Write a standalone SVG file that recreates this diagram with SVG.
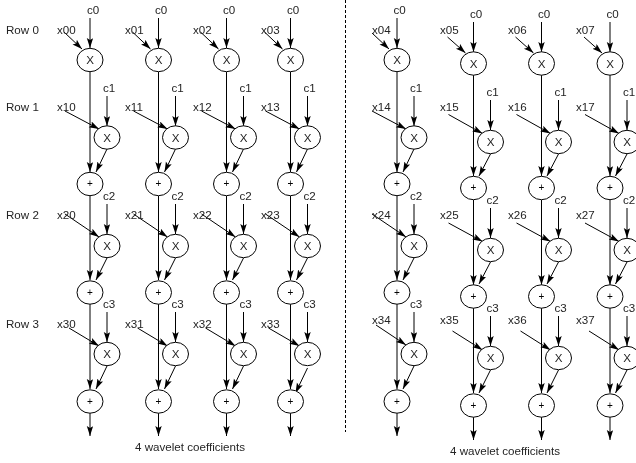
<svg xmlns="http://www.w3.org/2000/svg" width="636" height="463" viewBox="0 0 636 463">
<style>
text{font-family:"Liberation Sans",Arial,sans-serif;font-size:11.6px;fill:#222}
.m{text-anchor:middle}
.p{font-size:10px;fill:#000}
ellipse{fill:#fff;stroke:#000;stroke-width:1}
#connectors line{stroke:#000;stroke-width:1;marker-end:url(#h)}
#divider{stroke:#000;stroke-width:1;stroke-dasharray:3 2}
#nodes,#labels{opacity:.99}
</style>
<defs>
<marker id="h" markerUnits="userSpaceOnUse" markerWidth="11" markerHeight="8" refX="10" refY="3.2" orient="auto"><path d="M0,0 L10,3.2 L0,6.4 L2,3.2 Z" fill="#000"/></marker>
<g id="xn"><ellipse rx="13" ry="11.7"/><text class="m" y="4">X</text></g>
<g id="pn"><ellipse rx="13" ry="11.7"/><text class="m p" y="3.3">+</text></g>
</defs>
<line id="divider" x1="345.5" y1="0" x2="345.5" y2="432"/>
<g id="connectors">
<g transform="translate(90,0)"><line x1="0" y1="18" x2="0" y2="48"/><line x1="-26" y1="32" x2="-8" y2="49"/><line x1="0" y1="71.7" x2="0" y2="172"/><line x1="17" y1="96" x2="17" y2="126"/><line x1="-25" y1="111" x2="9" y2="129"/><line x1="17" y1="149" x2="6" y2="172"/><line x1="0" y1="196" x2="0" y2="280"/><line x1="17" y1="204" x2="17" y2="234"/><line x1="-25" y1="214" x2="9" y2="237"/><line x1="17" y1="258" x2="6" y2="280"/><line x1="0" y1="304" x2="0" y2="389"/><line x1="17" y1="312" x2="17" y2="342"/><line x1="-21" y1="328" x2="9" y2="346"/><line x1="17" y1="366" x2="6" y2="389"/><line x1="0" y1="413" x2="0" y2="436"/></g>
<g transform="translate(158.5,0)"><line x1="0" y1="18" x2="0" y2="48"/><line x1="-26" y1="32" x2="-8" y2="49"/><line x1="0" y1="71.7" x2="0" y2="172"/><line x1="17" y1="96" x2="17" y2="126"/><line x1="-25" y1="111" x2="9" y2="129"/><line x1="17" y1="149" x2="6" y2="172"/><line x1="0" y1="196" x2="0" y2="280"/><line x1="17" y1="204" x2="17" y2="234"/><line x1="-25" y1="214" x2="9" y2="237"/><line x1="17" y1="258" x2="6" y2="280"/><line x1="0" y1="304" x2="0" y2="389"/><line x1="17" y1="312" x2="17" y2="342"/><line x1="-21" y1="328" x2="9" y2="346"/><line x1="17" y1="366" x2="6" y2="389"/><line x1="0" y1="413" x2="0" y2="436"/></g>
<g transform="translate(226.5,0)"><line x1="0" y1="18" x2="0" y2="48"/><line x1="-26" y1="32" x2="-8" y2="49"/><line x1="0" y1="71.7" x2="0" y2="172"/><line x1="17" y1="96" x2="17" y2="126"/><line x1="-25" y1="111" x2="9" y2="129"/><line x1="17" y1="149" x2="6" y2="172"/><line x1="0" y1="196" x2="0" y2="280"/><line x1="17" y1="204" x2="17" y2="234"/><line x1="-25" y1="214" x2="9" y2="237"/><line x1="17" y1="258" x2="6" y2="280"/><line x1="0" y1="304" x2="0" y2="389"/><line x1="17" y1="312" x2="17" y2="342"/><line x1="-21" y1="328" x2="9" y2="346"/><line x1="17" y1="366" x2="6" y2="389"/><line x1="0" y1="413" x2="0" y2="436"/></g>
<g transform="translate(290.5,0)"><line x1="0" y1="18" x2="0" y2="48"/><line x1="-26" y1="32" x2="-8" y2="49"/><line x1="0" y1="71.7" x2="0" y2="172"/><line x1="17" y1="96" x2="17" y2="126"/><line x1="-25" y1="111" x2="9" y2="129"/><line x1="17" y1="149" x2="6" y2="172"/><line x1="0" y1="196" x2="0" y2="280"/><line x1="17" y1="204" x2="17" y2="234"/><line x1="-25" y1="214" x2="9" y2="237"/><line x1="17" y1="258" x2="6" y2="280"/><line x1="0" y1="304" x2="0" y2="389"/><line x1="17" y1="312" x2="17" y2="342"/><line x1="-22" y1="328" x2="9" y2="346"/><line x1="17" y1="368" x2="5" y2="393"/><line x1="0" y1="413" x2="0" y2="436"/></g>
<g transform="translate(397,0)"><line x1="0" y1="18" x2="0" y2="48"/><line x1="-25" y1="33" x2="-8" y2="49"/><line x1="0" y1="71.7" x2="0" y2="172"/><line x1="17" y1="96" x2="17" y2="126"/><line x1="-25" y1="111" x2="9" y2="129"/><line x1="17" y1="149" x2="6" y2="172"/><line x1="0" y1="196" x2="0" y2="280"/><line x1="17" y1="204" x2="17" y2="234"/><line x1="-25" y1="214" x2="9" y2="237"/><line x1="17" y1="258" x2="6" y2="280"/><line x1="0" y1="304" x2="0" y2="389"/><line x1="17" y1="312" x2="17" y2="342"/><line x1="-21" y1="325" x2="9" y2="345"/><line x1="17" y1="366" x2="6" y2="389"/><line x1="0" y1="413" x2="0" y2="436"/></g>
<g transform="translate(473.5,0)"><line x1="0" y1="22" x2="0" y2="52"/><line x1="-26" y1="37" x2="-8" y2="53"/><line x1="0" y1="75" x2="0" y2="176"/><line x1="17" y1="100" x2="17" y2="130"/><line x1="-25" y1="114.5" x2="9" y2="133.5"/><line x1="17" y1="154" x2="5.5" y2="176"/><line x1="0" y1="200" x2="0" y2="285"/><line x1="17" y1="208" x2="17" y2="238"/><line x1="-25" y1="223" x2="9" y2="241.5"/><line x1="17" y1="262" x2="5.5" y2="284"/><line x1="0" y1="308" x2="0" y2="393"/><line x1="17" y1="316" x2="17" y2="346"/><line x1="-21" y1="331" x2="9" y2="350"/><line x1="17" y1="370" x2="5.5" y2="393"/><line x1="0" y1="417" x2="0" y2="440"/></g>
<g transform="translate(541.5,0)"><line x1="0" y1="22" x2="0" y2="52"/><line x1="-26" y1="37" x2="-8" y2="53"/><line x1="0" y1="75" x2="0" y2="176"/><line x1="17" y1="100" x2="17" y2="130"/><line x1="-25" y1="114.5" x2="9" y2="133.5"/><line x1="17" y1="154" x2="5.5" y2="176"/><line x1="0" y1="200" x2="0" y2="285"/><line x1="17" y1="208" x2="17" y2="238"/><line x1="-25" y1="223" x2="9" y2="241.5"/><line x1="17" y1="262" x2="5.5" y2="284"/><line x1="0" y1="308" x2="0" y2="393"/><line x1="17" y1="316" x2="17" y2="346"/><line x1="-21" y1="331" x2="9" y2="350"/><line x1="17" y1="370" x2="5.5" y2="393"/><line x1="0" y1="417" x2="0" y2="440"/></g>
<g transform="translate(610,0)"><line x1="0" y1="22" x2="0" y2="52"/><line x1="-26" y1="37" x2="-8" y2="53"/><line x1="0" y1="75" x2="0" y2="176"/><line x1="17" y1="100" x2="17" y2="130"/><line x1="-25" y1="114.5" x2="9" y2="133.5"/><line x1="17" y1="154" x2="5.5" y2="176"/><line x1="0" y1="200" x2="0" y2="285"/><line x1="17" y1="208" x2="17" y2="238"/><line x1="-25" y1="223" x2="9" y2="241.5"/><line x1="17" y1="262" x2="5.5" y2="284"/><line x1="0" y1="308" x2="0" y2="393"/><line x1="17" y1="316" x2="17" y2="346"/><line x1="-21" y1="331" x2="9" y2="350"/><line x1="17" y1="370" x2="5.5" y2="393"/><line x1="0" y1="417" x2="0" y2="440"/></g>
</g>
<g id="nodes">
<g id="c0-x0" transform="translate(90,60)"><use href="#xn"/></g><g id="c0-x1" transform="translate(107,137.5)"><use href="#xn"/></g><g id="c0-p1" transform="translate(90,184)"><use href="#pn"/></g><g id="c0-x2" transform="translate(107,246)"><use href="#xn"/></g><g id="c0-p2" transform="translate(90,292.5)"><use href="#pn"/></g><g id="c0-x3" transform="translate(107,354)"><use href="#xn"/></g><g id="c0-p3" transform="translate(90,401.5)"><use href="#pn"/></g>
<g id="c1-x0" transform="translate(158.5,60)"><use href="#xn"/></g><g id="c1-x1" transform="translate(175.5,137.5)"><use href="#xn"/></g><g id="c1-p1" transform="translate(158.5,184)"><use href="#pn"/></g><g id="c1-x2" transform="translate(175.5,246)"><use href="#xn"/></g><g id="c1-p2" transform="translate(158.5,292.5)"><use href="#pn"/></g><g id="c1-x3" transform="translate(175.5,354)"><use href="#xn"/></g><g id="c1-p3" transform="translate(158.5,401.5)"><use href="#pn"/></g>
<g id="c2-x0" transform="translate(226.5,60)"><use href="#xn"/></g><g id="c2-x1" transform="translate(243.5,137.5)"><use href="#xn"/></g><g id="c2-p1" transform="translate(226.5,184)"><use href="#pn"/></g><g id="c2-x2" transform="translate(243.5,246)"><use href="#xn"/></g><g id="c2-p2" transform="translate(226.5,292.5)"><use href="#pn"/></g><g id="c2-x3" transform="translate(243.5,354)"><use href="#xn"/></g><g id="c2-p3" transform="translate(226.5,401.5)"><use href="#pn"/></g>
<g id="c3-x0" transform="translate(290.5,60)"><use href="#xn"/></g><g id="c3-x1" transform="translate(307.5,137.5)"><use href="#xn"/></g><g id="c3-p1" transform="translate(290.5,184)"><use href="#pn"/></g><g id="c3-x2" transform="translate(307.5,246)"><use href="#xn"/></g><g id="c3-p2" transform="translate(290.5,292.5)"><use href="#pn"/></g><g id="c3-x3" transform="translate(307.5,354)"><use href="#xn"/></g><g id="c3-p3" transform="translate(290.5,401.5)"><use href="#pn"/></g>
<g id="c4-x0" transform="translate(397,60)"><use href="#xn"/></g><g id="c4-x1" transform="translate(414,137.5)"><use href="#xn"/></g><g id="c4-p1" transform="translate(397,184)"><use href="#pn"/></g><g id="c4-x2" transform="translate(414,246)"><use href="#xn"/></g><g id="c4-p2" transform="translate(397,292.5)"><use href="#pn"/></g><g id="c4-x3" transform="translate(414,354)"><use href="#xn"/></g><g id="c4-p3" transform="translate(397,401.5)"><use href="#pn"/></g>
<g id="c5-x0" transform="translate(473.5,63.5)"><use href="#xn"/></g><g id="c5-x1" transform="translate(490.5,142)"><use href="#xn"/></g><g id="c5-p1" transform="translate(473.5,188)"><use href="#pn"/></g><g id="c5-x2" transform="translate(490.5,250)"><use href="#xn"/></g><g id="c5-p2" transform="translate(473.5,296.5)"><use href="#pn"/></g><g id="c5-x3" transform="translate(490.5,358)"><use href="#xn"/></g><g id="c5-p3" transform="translate(473.5,405.5)"><use href="#pn"/></g>
<g id="c6-x0" transform="translate(541.5,63.5)"><use href="#xn"/></g><g id="c6-x1" transform="translate(558.5,142)"><use href="#xn"/></g><g id="c6-p1" transform="translate(541.5,188)"><use href="#pn"/></g><g id="c6-x2" transform="translate(558.5,250)"><use href="#xn"/></g><g id="c6-p2" transform="translate(541.5,296.5)"><use href="#pn"/></g><g id="c6-x3" transform="translate(558.5,358)"><use href="#xn"/></g><g id="c6-p3" transform="translate(541.5,405.5)"><use href="#pn"/></g>
<g id="c7-x0" transform="translate(610,63.5)"><use href="#xn"/></g><g id="c7-x1" transform="translate(627,142)"><use href="#xn"/></g><g id="c7-p1" transform="translate(610,188)"><use href="#pn"/></g><g id="c7-x2" transform="translate(627,250)"><use href="#xn"/></g><g id="c7-p2" transform="translate(610,296.5)"><use href="#pn"/></g><g id="c7-x3" transform="translate(627,358)"><use href="#xn"/></g><g id="c7-p3" transform="translate(610,405.5)"><use href="#pn"/></g>
</g>
<g id="labels">
<text x="6" y="34">Row 0</text><text x="6" y="111">Row 1</text><text x="6" y="219">Row 2</text><text x="6" y="327.5">Row 3</text>
<text x="57" y="34">x00</text><text x="125" y="34">x01</text><text x="193" y="34">x02</text><text x="261" y="34">x03</text><text x="372" y="34">x04</text><text x="440" y="34">x05</text><text x="508" y="34">x06</text><text x="576" y="34">x07</text>
<text x="57" y="111">x10</text><text x="125" y="111">x11</text><text x="193" y="111">x12</text><text x="261" y="111">x13</text><text x="372" y="111">x14</text><text x="440" y="111">x15</text><text x="508" y="111">x16</text><text x="576" y="111">x17</text>
<text x="57" y="219">x20</text><text x="125" y="219">x21</text><text x="193" y="219">x22</text><text x="261" y="219">x23</text><text x="372" y="219">x24</text><text x="440" y="219">x25</text><text x="508" y="219">x26</text><text x="576" y="219">x27</text>
<text x="57" y="327.5">x30</text><text x="125" y="327.5">x31</text><text x="193" y="327.5">x32</text><text x="261" y="327.5">x33</text><text x="372" y="324">x34</text><text x="440" y="324">x35</text><text x="508" y="324">x36</text><text x="576" y="324">x37</text>
<g class="m">
<text x="93" y="14">c0</text><text x="161" y="14">c0</text><text x="229" y="14">c0</text><text x="293" y="14">c0</text><text x="399.5" y="14">c0</text><text x="476" y="18">c0</text><text x="544" y="18">c0</text><text x="612.5" y="18">c0</text>
<text x="109" y="92">c1</text><text x="177.5" y="92">c1</text><text x="245.5" y="92">c1</text><text x="309.5" y="92">c1</text><text x="416" y="92">c1</text><text x="492.5" y="96">c1</text><text x="560.5" y="96">c1</text><text x="629" y="96">c1</text>
<text x="109" y="200">c2</text><text x="177.5" y="200">c2</text><text x="245.5" y="200">c2</text><text x="309.5" y="200">c2</text><text x="416" y="200">c2</text><text x="492.5" y="204">c2</text><text x="560.5" y="204">c2</text><text x="629" y="204">c2</text>
<text x="109" y="308">c3</text><text x="177.5" y="308">c3</text><text x="245.5" y="308">c3</text><text x="309.5" y="308">c3</text><text x="416" y="308">c3</text><text x="492.5" y="312">c3</text><text x="560.5" y="312">c3</text><text x="629" y="312">c3</text>
<text x="190" y="451">4 wavelet coefficients</text><text x="505" y="455">4 wavelet coefficients</text>
</g>
</g>
</svg>
